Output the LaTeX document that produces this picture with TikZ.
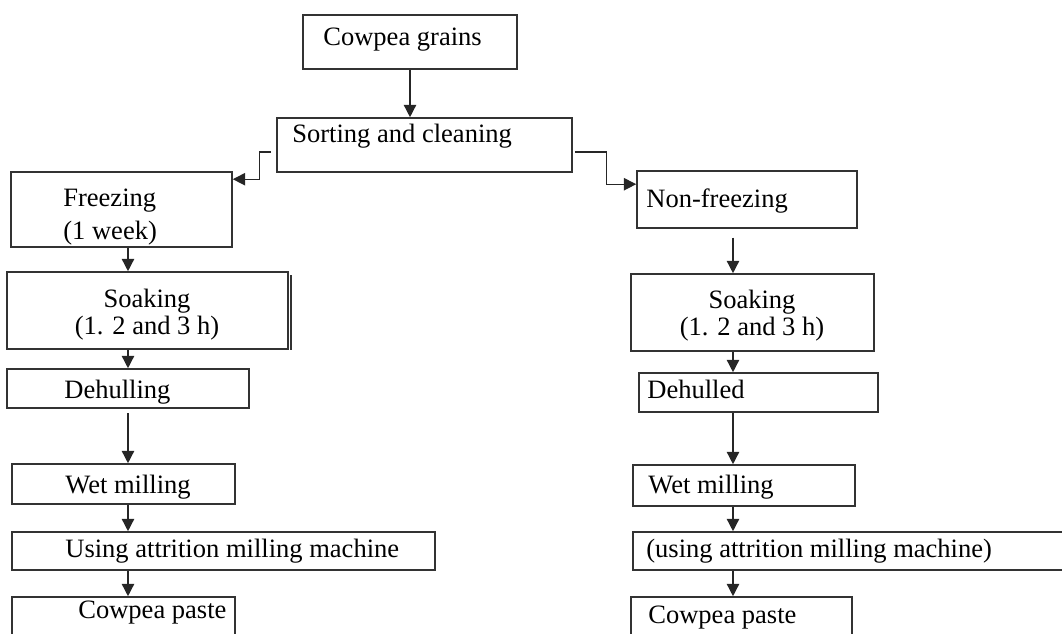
\documentclass[tikz,border=0pt]{standalone}
\usepackage{fontspec}
\setmainfont{Liberation Serif}
\usetikzlibrary{arrows.meta,fit,calc}
\begin{document}
\begin{tikzpicture}[x=0.02cm, y=-0.02cm,
  box/.style={draw=black!80, line width=0.9pt, inner sep=0pt},
  txt/.style={inner sep=0pt, font=\fontsize{15.1}{18}\selectfont, text=black},
  arr/.style={draw=black!85, line width=0.8pt, -{Triangle[length=7pt,width=7pt]}}]
\useasboundingbox (0,0) rectangle (1062,633);
\coordinate (colL) at (128,0);
\coordinate (colR) at (733,0);
% top of the chart
\node[box, fit={(303,15) (517,69)}] (grains){};
\node[txt, anchor=base west] (grainsT) at (323,45){Cowpea grains};
\node[box, fit={(277,118) (572,172)}] (sort){};
\node[txt, anchor=base west] (sortT) at (292,142){Sorting and cleaning};
\draw[arr](grains) -- (grains |- sort.north);
% freezing branch
\node[box, fit={(11,172) (232,247)}] (frz){};
\node[txt, anchor=base west] (frzT) at (63,206){Freezing};
\node[txt, anchor=base west] (frzT2) at (63,239){(1 week)};
\node[box, fit={(7,272) (288,349)}] (soakL){};
\draw[box] ($(soakL.north east)+(2,4)$) -- ($(soakL.south east)+(2,0)$);
\node[txt, anchor=base] (soakLT) at (147,307){Soaking};
\node[txt, anchor=base] (soakLT2) at (147,334){(1. 2 and 3 h)};
\node[box, fit={(7,369) (249,408)}] (dehull){};
\node[txt, anchor=base west] (dehullT) at (64,398){Dehulling};
\node[box, fit={(12,464) (235,504)}] (wetL){};
\node[txt, anchor=base west] (wetLT) at (65,493){Wet milling};
\node[box, fit={(12,532) (435,570)}] (useL){};
\node[txt, anchor=base west] (useLT) at (65,557){Using attrition milling machine};
\node[box, fit={(12,597) (235,660)}] (pasteL){};
\node[txt, anchor=base west] (pasteLT) at (78,618){Cowpea paste};
\draw[arr]($(sort.west)+(-5,7)$) -- ++(-12,0) |- ($(frz.north east)+(0,8)$);
\draw[arr](frz.south -| colL) -- (soakL.north -| colL);
\draw[arr](soakL.south -| colL) -- (dehull.north -| colL);
\draw[arr, shorten <=2.5pt](dehull.south -| colL) -- (wetL.north -| colL);
\draw[arr](wetL.south -| colL) -- (useL.north -| colL);
\draw[arr](useL.south -| colL) -- (pasteL.north -| colL);
% non-freezing branch
\node[box, fit={(637,171) (857,228)}] (nofrz){};
\node[txt, anchor=base west] (nofrzT) at (646,207){Non-freezing};
\node[box, fit={(631,274) (874,351)}] (soakR){};
\node[txt, anchor=base] (soakRT) at (752,308){Soaking};
\node[txt, anchor=base] (soakRT2) at (752,335){(1. 2 and 3 h)};
\node[box, fit={(639,373) (878,412)}] (dehulled){};
\node[txt, anchor=base west] (dehulledT) at (647,398){Dehulled};
\node[box, fit={(633,465) (855,506)}] (wetR){};
\node[txt, anchor=base west] (wetRT) at (648,493){Wet milling};
\node[box, fit={(633,532) (1075,570)}] (useR){};
\node[txt, anchor=base west] (useRT) at (646,557){(using attrition milling machine)};
\node[box, fit={(631,597) (852,660)}] (pasteR){};
\node[txt, anchor=base west] (pasteRT) at (648,623){Cowpea paste};
\draw[arr]($(sort.east)+(2,7)$) -- ++(32,0) |- ($(nofrz.north west)+(0,14)$);
\draw[arr, shorten <=5pt](nofrz.south -| colR) -- (soakR.north -| colR);
\draw[arr](soakR.south -| colR) -- (dehulled.north -| colR);
\draw[arr](dehulled.south -| colR) -- (wetR.north -| colR);
\draw[arr](wetR.south -| colR) -- (useR.north -| colR);
\draw[arr](useR.south -| colR) -- (pasteR.north -| colR);
\end{tikzpicture}
\end{document}
